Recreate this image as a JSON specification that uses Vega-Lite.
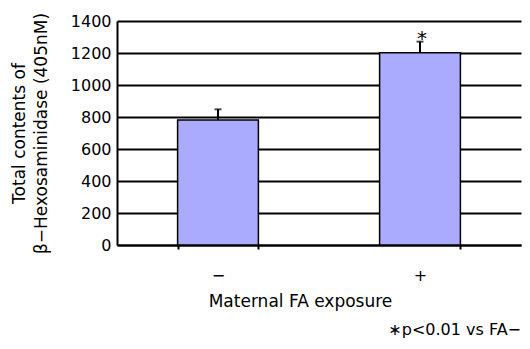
{
  "$schema": "https://vega.github.io/schema/vega-lite/v6.json",
  "autosize": "none",
  "width": 404,
  "height": 224,
  "padding": {"left": 117, "top": 21, "right": 9, "bottom": 104},
  "background": "white",
  "config": {
    "view": {"stroke": null},
    "font": "DejaVu Sans",
    "axis": {"labelFont": "DejaVu Sans", "titleFont": "DejaVu Sans", "labelColor": "black", "titleColor": "black", "titleFontWeight": "normal"},
    "axisY": {
      "titleFontSize": 17,
      "titlePadding": 20,
      "titleLineHeight": 22,
      "format": "d",
      "labelOverlap": false,
      "labelBound": false,
      "labelFontSize": 16,
      "labelPadding": 6,
      "ticks": false,
      "grid": true,
      "gridColor": "black",
      "gridWidth": 2,
      "gridOpacity": 1,
      "domainColor": "black",
      "domainWidth": 2
    }
  },
  "title": {
    "text": "∗p<0.01 vs FA−",
    "orient": "bottom",
    "anchor": "end",
    "font": "DejaVu Sans",
    "fontSize": 16,
    "fontWeight": "normal",
    "color": "black",
    "offset": 13,
    "dx": 0
  },
  "data": {
    "values": [
      {"group": "−", "value": 781, "upper": 848, "sig": ""},
      {"group": "+", "value": 1202, "upper": 1271, "sig": "*"}
    ]
  },
  "encoding": {
    "x": {
      "field": "group",
      "type": "nominal",
      "sort": ["−", "+"],
      "scale": {"paddingInner": 0.6, "paddingOuter": 0.3},
      "axis": {
        "title": "Maternal FA exposure",
        "titleFontSize": 17,
        "titlePadding": 10,
        "titleX": 183,
        "labelAngle": 0,
        "labelFontSize": 16,
        "labelPadding": 18,
        "domainColor": "black",
        "domainWidth": 2,
        "tickBand": "extent",
        "tickColor": "black",
        "tickWidth": 2,
        "tickSize": 4
      }
    }
  },
  "layer": [
    {
      "mark": {"type": "bar", "fill": "#aaaaff", "stroke": "black", "strokeWidth": 1.5},
      "encoding": {
        "y": {
          "field": "value",
          "type": "quantitative",
          "scale": {"domain": [0, 1400], "nice": false},
          "axis": {"title": ["Total contents of", "β−Hexosaminidase (405nM)"], "values": [0, 200, 400, 600, 800, 1000, 1200, 1400]}
        }
      }
    },
    {
      "mark": {"type": "rule", "color": "black", "strokeWidth": 2},
      "encoding": {
        "y": {"field": "value", "type": "quantitative", "axis": {"title": ["Total contents of", "β−Hexosaminidase (405nM)"], "values": [0, 200, 400, 600, 800, 1000, 1200, 1400]}},
        "y2": {"field": "upper"}
      }
    },
    {
      "mark": {"type": "tick", "color": "black", "thickness": 2, "size": 7},
      "encoding": {
        "y": {"field": "upper", "type": "quantitative", "axis": {"title": ["Total contents of", "β−Hexosaminidase (405nM)"], "values": [0, 200, 400, 600, 800, 1000, 1200, 1400]}}
      }
    },
    {
      "mark": {"type": "text", "fontSize": 20, "baseline": "middle", "dy": -3, "dx": 2, "color": "black"},
      "encoding": {
        "y": {"field": "upper", "type": "quantitative", "axis": {"title": ["Total contents of", "β−Hexosaminidase (405nM)"], "values": [0, 200, 400, 600, 800, 1000, 1200, 1400]}},
        "text": {"field": "sig"}
      }
    }
  ]
}
